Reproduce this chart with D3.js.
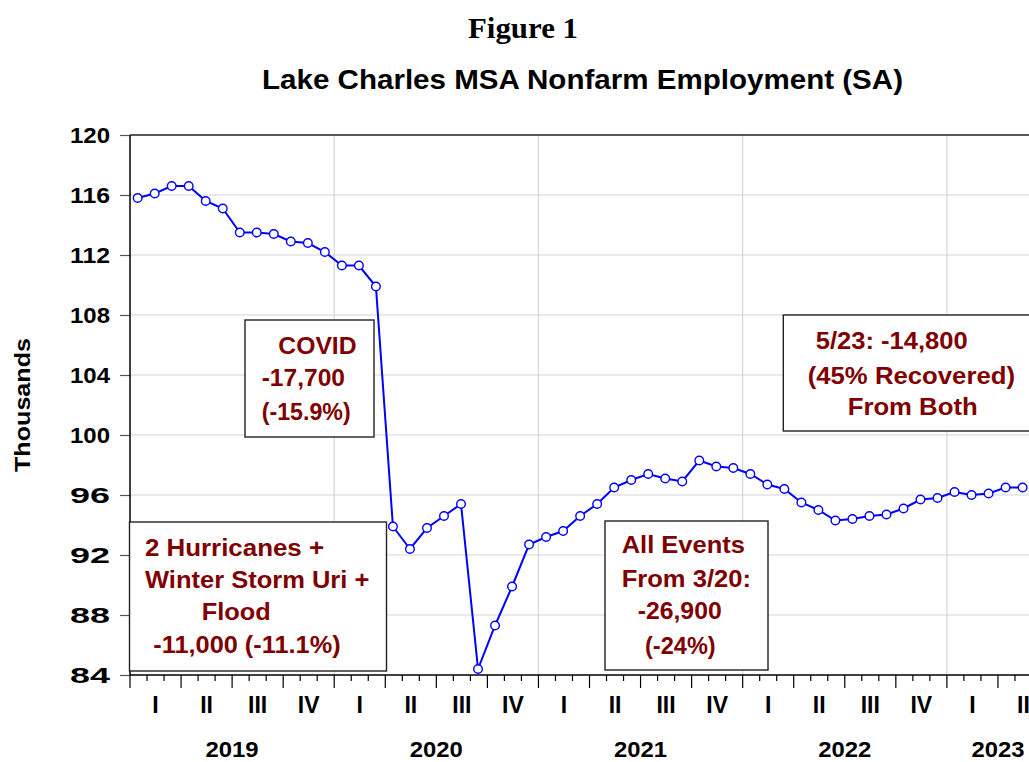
<!DOCTYPE html>
<html>
<head>
<meta charset="utf-8">
<script src="https://cdn.jsdelivr.net/npm/d3@7"></script>
<style>
  html, body { margin: 0; padding: 0; background: #fff; }
  svg { display: block; }
</style>
</head>
<body>
<svg id="chart" width="1029" height="762"></svg>
<script>
// ---------------- data ----------------
const startYear = 2019;
// Lake Charles MSA nonfarm employment (thousands, SA), Jan 2019 .. May 2023
const employment = [
  115.8, 116.1, 116.6, 116.6, 115.6, 115.1, 113.5, 113.5, 113.4, 112.9, 112.8, 112.2,
  111.3, 111.3, 109.9, 93.9, 92.4, 93.8, 94.6, 95.4, 84.4, 87.3, 89.9, 92.7,
  93.2, 93.6, 94.6, 95.4, 96.5, 97.0, 97.4, 97.1, 96.9, 98.3, 97.9, 97.8,
  97.4, 96.7, 96.4, 95.5, 95.0, 94.3, 94.4, 94.6, 94.7, 95.1, 95.7, 95.8,
  96.2, 96.0, 96.1, 96.5, 96.5
];
const yTicks = [84, 88, 92, 96, 100, 104, 108, 112, 116, 120];
const quarterLabels = ["I", "II", "III", "IV"];
const yearLabels = ["2019", "2020", "2021", "2022", "2023"];
const titleText = "Figure 1";
const subtitleText = "Lake Charles MSA  Nonfarm Employment (SA)";
const yAxisTitle = "Thousands";
const covidNote = ["COVID", "-17,700", "(-15.9%)"];
const stormNote = ["2 Hurricanes +", "Winter Storm Uri +", "Flood", "-11,000 (-11.1%)"];
const allNote = ["All Events", "From 3/20:", "-26,900", "(-24%)"];
const recoveryNote = ["5/23: -14,800", "(45% Recovered)", "From Both"];

// ---------------- layout ----------------
const plot = { left: 130, top: 135, right: 1049, bottom: 675 };
const nMonthsAxis = 54; // Jan 2019 .. Jun 2023
const pointOffset = 0.45;
const darkRed = "#800000";

const svg = d3.select("#chart");
const x = d3.scaleLinear().domain([0, nMonthsAxis]).range([plot.left, plot.right]);
const y = d3.scaleLinear().domain([84, 120]).range([plot.bottom, plot.top]);

// titles
svg.append("text")
  .attr("x", 523).attr("y", 38)
  .attr("text-anchor", "middle")
  .attr("font-family", "Liberation Serif, Times New Roman, serif")
  .attr("font-weight", "bold").attr("font-size", 30)
  .attr("textLength", 110).attr("lengthAdjust", "spacingAndGlyphs")
  .text(titleText);
svg.append("text")
  .attr("x", 262).attr("y", 89)
  .attr("font-family", "Liberation Sans, Arial, sans-serif")
  .attr("font-weight", "bold").attr("font-size", 27)
  .attr("textLength", 641).attr("lengthAdjust", "spacingAndGlyphs")
  .text(subtitleText);

// y-axis title
svg.append("text")
  .attr("transform", `translate(30, ${(plot.top + plot.bottom) / 2}) rotate(-90)`)
  .attr("text-anchor", "middle")
  .attr("font-family", "Liberation Sans, Arial, sans-serif")
  .attr("font-weight", "bold").attr("font-size", 22)
  .attr("textLength", 134).attr("lengthAdjust", "spacingAndGlyphs")
  .text(yAxisTitle);

const g = svg.append("g");

// clip for plot
svg.append("defs").append("clipPath").attr("id", "plotclip")
  .append("rect").attr("x", plot.left).attr("y", plot.top - 10)
  .attr("width", plot.right - plot.left).attr("height", plot.bottom - plot.top + 20);

// horizontal gridlines
g.selectAll("line.hgrid").data(yTicks.filter(d => d !== 84 && d !== 120)).enter()
  .append("line").attr("class", "hgrid")
  .attr("x1", plot.left).attr("x2", plot.right)
  .attr("y1", d => y(d)).attr("y2", d => y(d))
  .attr("stroke", "#d6d6d6").attr("stroke-width", 1.2);

// vertical gridlines at year boundaries
const yearStarts = yearLabels.map((_, i) => i * 12).filter(m => m > 0);
g.selectAll("line.vgrid").data(yearStarts).enter()
  .append("line").attr("class", "vgrid")
  .attr("x1", d => x(d)).attr("x2", d => x(d))
  .attr("y1", plot.top).attr("y2", plot.bottom)
  .attr("stroke", "#d6d6d6").attr("stroke-width", 1.2);

// y axis
const yAxis = d3.axisLeft(y).tickValues(yTicks).tickSize(10).tickPadding(10);
const yg = svg.append("g").attr("transform", `translate(${plot.left},0)`).call(yAxis);
yg.select(".domain").remove();
yg.selectAll(".tick line").attr("stroke", "#555").attr("stroke-width", 1.2);
yg.selectAll(".tick text")
  .attr("font-family", "Liberation Sans, Arial, sans-serif")
  .attr("font-weight", "bold").attr("font-size", 22).attr("fill", "#000")
  .attr("textLength", 40).attr("lengthAdjust", "spacingAndGlyphs");

// x axis ticks: months minor, quarters major
const monthTicks = d3.range(0, nMonthsAxis + 1);
const xg = svg.append("g");
xg.selectAll("line").data(monthTicks).enter().append("line")
  .attr("x1", d => x(d)).attr("x2", d => x(d))
  .attr("y1", plot.bottom)
  .attr("y2", d => plot.bottom + (d % 3 === 0 ? 13 : 6))
  .attr("stroke", "#000").attr("stroke-width", 1.2);

// quarter labels
const quarters = d3.range(0, nMonthsAxis / 3);
xg.selectAll("text.q").data(quarters).enter().append("text").attr("class", "q")
  .attr("x", d => x(d * 3 + 1.5)).attr("y", 713)
  .attr("text-anchor", "middle")
  .attr("font-family", "Liberation Sans, Arial, sans-serif")
  .attr("font-weight", "bold").attr("font-size", 23)
  .text(d => quarterLabels[d % 4]);

// year labels, centered over the shown part of each year
xg.selectAll("text.yr").data(yearLabels).enter().append("text").attr("class", "yr")
  .attr("x", (d, i) => (x(i * 12) + x(Math.min((i + 1) * 12, nMonthsAxis))) / 2)
  .attr("y", 757)
  .attr("text-anchor", "middle")
  .attr("font-family", "Liberation Sans, Arial, sans-serif")
  .attr("font-weight", "bold").attr("font-size", 22)
  .attr("textLength", 53).attr("lengthAdjust", "spacingAndGlyphs")
  .text(d => d);

// frame: left, top, bottom
svg.append("line").attr("x1", plot.left).attr("x2", plot.left)
  .attr("y1", plot.top).attr("y2", plot.bottom).attr("stroke", "#000").attr("stroke-width", 1.5);
svg.append("line").attr("x1", plot.left).attr("x2", plot.right)
  .attr("y1", plot.top).attr("y2", plot.top).attr("stroke", "#222").attr("stroke-width", 1.5);
svg.append("line").attr("x1", plot.left).attr("x2", plot.right)
  .attr("y1", plot.bottom).attr("y2", plot.bottom).attr("stroke", "#000").attr("stroke-width", 1.5);

// series line + markers
const line = d3.line()
  .x((d, i) => x(i + pointOffset))
  .y(d => y(d));
const series = svg.append("g").attr("clip-path", "url(#plotclip)");
series.append("path").datum(employment)
  .attr("d", line).attr("fill", "none")
  .attr("stroke", "#0000ff").attr("stroke-width", 2);
series.selectAll("circle").data(employment).enter().append("circle")
  .attr("cx", (d, i) => x(i + pointOffset)).attr("cy", d => y(d))
  .attr("r", 4.3).attr("fill", "#fff")
  .attr("stroke", "#0000ff").attr("stroke-width", 1.4);

// annotation boxes
function noteBox(box, lines, spec) {
  const gb = svg.append("g");
  gb.append("rect").attr("x", box.x).attr("y", box.y)
    .attr("width", box.w).attr("height", box.h)
    .attr("fill", "#fff").attr("stroke", "#222").attr("stroke-width", 1.4);
  lines.forEach((t, i) => {
    gb.append("text")
      .attr("x", spec[i][0]).attr("y", spec[i][1])
      .attr("font-family", "Liberation Sans, Arial, sans-serif")
      .attr("font-weight", "bold").attr("font-size", 23)
      .attr("fill", darkRed)
      .attr("textLength", spec[i][2]).attr("lengthAdjust", "spacingAndGlyphs")
      .text(t);
  });
}
noteBox({ x: 245, y: 320, w: 129, h: 117 }, covidNote,
  [[278.3, 354, 78.3], [261.7, 386, 83.3], [261.7, 420, 89]]);
noteBox({ x: 129.5, y: 522, w: 257, h: 149 }, stormNote,
  [[145, 556, 179], [145, 588, 224.3], [201.7, 620, 69], [153.3, 653, 187.3]]);
noteBox({ x: 605, y: 521, w: 163, h: 149 }, allNote,
  [[621.7, 552.5, 123.3], [621.7, 587, 129.3], [637.7, 619, 84], [645, 653.5, 70.7]]);
noteBox({ x: 783.3, y: 315, w: 260, h: 116 }, recoveryNote,
  [[815.7, 348.5, 152], [807.7, 383.5, 207.3], [847.7, 414.5, 130]]);
</script>
</body>
</html>
